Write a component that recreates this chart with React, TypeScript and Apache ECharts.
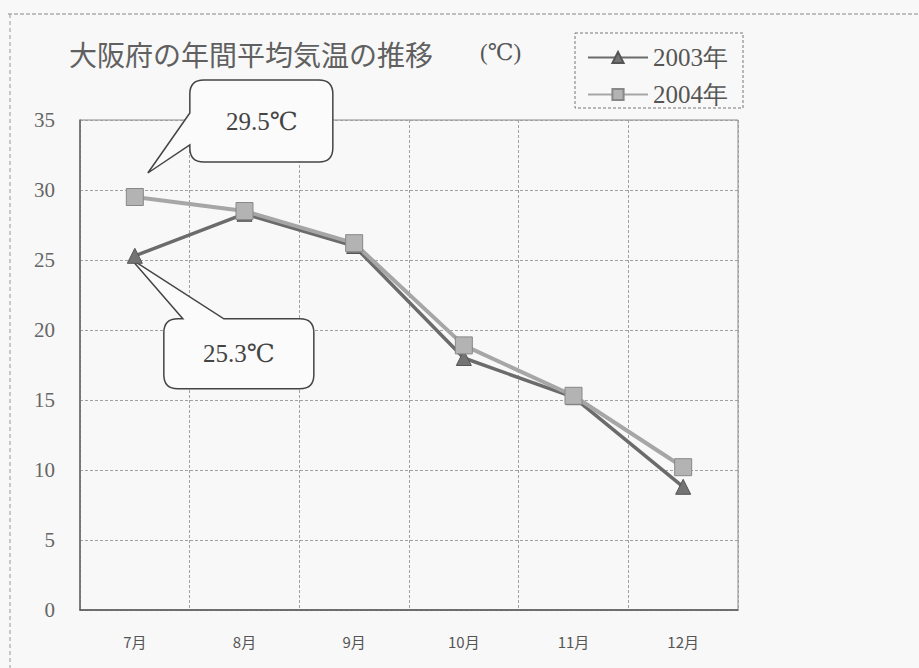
import React, { useEffect, useRef } from "react";
import * as echarts from "echarts";

const months = ["7月", "8月", "9月", "10月", "11月", "12月"];
const t2003 = [25.3, 28.3, 26.0, 18.0, 15.2, 8.8];
const t2004 = [29.5, 28.5, 26.2, 18.9, 15.3, 10.2];
const seriesNames = ["2003年", "2004年"];
const titleText = "大阪府の年間平均気温の推移";
const unitText = "(℃)";

const SERIF = "'Liberation Serif', 'DejaVu Serif', serif";

const CALLOUT_UP =
  "M42,-60 L0,0 L42,-28 L42,-25 Q42,-11 56,-11 L171,-11 Q185,-11 185,-25 L185,-79 Q185,-93 171,-93 L56,-93 Q42,-93 42,-79 Z";
const CALLOUT_DOWN =
  "M52,60 L0,0 L93,60 L169,60 Q183,60 183,74 L183,116 Q183,130 169,130 L47,130 Q33,130 33,116 L33,74 Q33,60 47,60 Z";

let registered = false;
function registerShapes() {
  if (registered) return;
  registered = true;
  echarts.graphic.registerShape("calloutUp", echarts.graphic.extendPath(CALLOUT_UP, {}) as any);
  echarts.graphic.registerShape("calloutDown", echarts.graphic.extendPath(CALLOUT_DOWN, {}) as any);
}

export default function App() {
  const ref = useRef<HTMLDivElement>(null);

  useEffect(() => {
    document.body.style.margin = "0";
    registerShapes();
    const chart = echarts.init(ref.current!, null, { renderer: "svg" });
    const dash = { type: [3, 2] as any, color: "#a0a0a0", width: 1 };
    chart.setOption({
      animation: false,
      backgroundColor: "#f8f8f8",
      title: {
        text: titleText,
        left: 64,
        top: 35,
        textStyle: {
          fontSize: 28,
          fontWeight: "normal",
          color: "#606060",
          fontFamily: "Noto Sans CJK JP",
        },
      },
      legend: {
        orient: "vertical",
        left: 582,
        top: 40,
        itemWidth: 60,
        itemHeight: 14,
        itemGap: 12,
        data: seriesNames,
        textStyle: {
          fontSize: 25,
          lineHeight: 24,
          color: "#555",
          fontFamily: SERIF,
        },
      },
      grid: {
        left: 80,
        right: 181,
        top: 120,
        bottom: 58,
        show: true,
        borderColor: "#8a8a8a",
        borderWidth: 1,
        backgroundColor: "transparent",
      },
      xAxis: {
        type: "category",
        data: months,
        boundaryGap: true,
        axisLine: { lineStyle: { color: "#555", width: 1.5 } },
        axisTick: { show: false },
        axisLabel: {
          fontSize: 15,
          color: "#555",
          margin: 24,
          fontFamily: "Noto Sans CJK JP",
        },
        splitLine: { show: true, lineStyle: dash },
      },
      yAxis: {
        type: "value",
        min: 0,
        max: 35,
        interval: 5,
        axisLine: { show: true, lineStyle: { color: "#666", width: 1.5 } },
        axisTick: { show: false },
        axisLabel: {
          fontSize: 21,
          color: "#666",
          margin: 25,
          fontFamily: SERIF,
        },
        splitLine: { show: true, lineStyle: dash },
      },
      series: [
        {
          name: seriesNames[0],
          type: "line",
          data: t2003,
          symbol: "triangle",
          symbolSize: 15,
          lineStyle: { color: "#6b6b6b", width: 3.5 },
          itemStyle: { color: "#747474", borderColor: "#555", borderWidth: 1 },
          z: 2,
        },
        {
          name: seriesNames[1],
          type: "line",
          data: t2004,
          symbol: "rect",
          symbolSize: 17,
          lineStyle: { color: "#a6a6a6", width: 4 },
          itemStyle: { color: "#b3b3b3", borderColor: "#888", borderWidth: 1 },
          z: 3,
        },
      ],
    });

    const pHigh = chart.convertToPixel({ gridIndex: 0 }, [0, t2004[0]]) as number[];
    const pLow = chart.convertToPixel({ gridIndex: 0 }, [0, t2003[0]]) as number[];
    const shapeStyle = { fill: "#fbfbfb", stroke: "#444", lineWidth: 1.5 };
    const calloutText = (s: string, x: number, y: number) => ({
      type: "text",
      x,
      y,
      style: {
        text: s,
        fontSize: 25,
        fontFamily: SERIF,
        fill: "#444",
        align: "center",
        verticalAlign: "middle",
      },
    });

    chart.setOption({
      graphic: [
        {
          type: "line",
          shape: { x1: 8, y1: 14, x2: 919, y2: 14 },
          style: { stroke: "#888", lineWidth: 1, lineDash: [4, 2] },
        },
        {
          type: "line",
          shape: { x1: 10, y1: 14, x2: 10, y2: 668 },
          style: { stroke: "#999", lineWidth: 1, lineDash: [4, 3] },
        },
        {
          type: "rect",
          shape: { x: 575, y: 33, width: 168, height: 75 },
          style: { fill: "none", stroke: "#777", lineWidth: 1, lineDash: [3, 2] },
        },
        {
          type: "text",
          x: 480,
          y: 52,
          style: {
            text: unitText,
            fontSize: 23,
            fontFamily: SERIF,
            fill: "#555",
            verticalAlign: "middle",
          },
        },
        {
          type: "group",
          x: pHigh[0] + 13,
          y: pHigh[1] - 24,
          z: 10,
          children: [
            { type: "calloutUp", style: shapeStyle },
            calloutText(`${t2004[0]}℃`, 114, -52),
          ],
        },
        {
          type: "group",
          x: pLow[0] - 4,
          y: pLow[1] + 3,
          z: 10,
          children: [
            { type: "calloutDown", style: shapeStyle },
            calloutText(`${t2003[0]}℃`, 108, 95),
          ],
        },
      ],
    });

    return () => chart.dispose();
  }, []);

  return (
    <div
      ref={ref}
      style={{ position: "absolute", left: 0, top: 0, width: 919, height: 668 }}
    />
  );
}
